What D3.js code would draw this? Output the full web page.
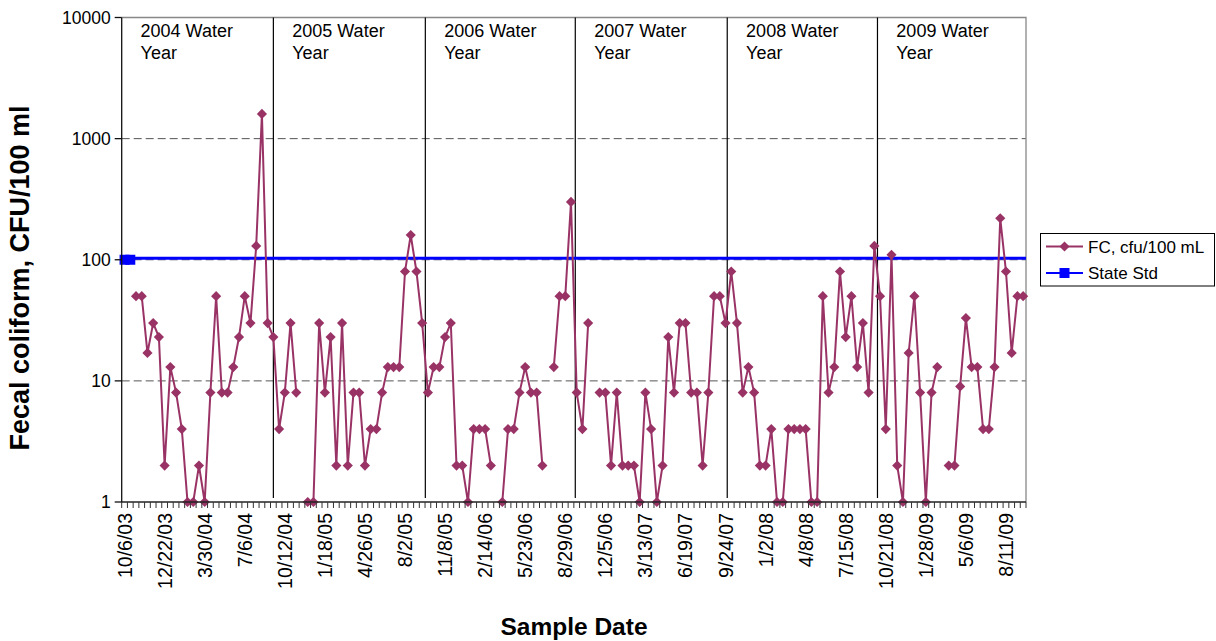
<!DOCTYPE html>
<html>
<head>
<meta charset="utf-8">
<script src="https://cdn.jsdelivr.net/npm/d3@7"></script>
<style>
  html, body { margin: 0; padding: 0; background: #fff; }
  svg { display: block; font-family: "Liberation Sans", Arial, sans-serif; }
</style>
</head>
<body>
<svg id="chart" width="1216" height="641"></svg>
<script>
// Fecal coliform results, one entry per sample slot (null = no sample)
const fcValues = [
  null, null, 50, 50, 17, 30, 23, 2, 13, 8, 4, 1, 1, 2, 1, 8, 50, 8, 8, 13, 23, 50, 30, 130, 1600, 30, 23,
  4, 8, 30, 8, null, 1, 1, 30, 8, 23, 2, 30, 2, 8, 8, 2, 4, 4, 8, 13, 13, 13, 80, 160, 80, 30,
  8, 13, 13, 23, 30, 2, 2, 1, 4, 4, 4, 2, null, 1, 4, 4, 8, 13, 8, 8, 2, null, 13, 50, 50, 300,
  8, 4, 30, null, 8, 8, 2, 8, 2, 2, 2, 1, 8, 4, 1, 2, 23, 8, 30, 30, 8, 8, 2, 8, 50, 50, 30,
  80, 30, 8, 13, 8, 2, 2, 4, 1, 1, 4, 4, 4, 4, 1, 1, 50, 8, 13, 80, 23, 50, 13, 30, 8, 130,
  50, 4, 110, 2, 1, 17, 50, 8, 1, 8, 13, null, 2, 2, 9, 33, 13, 13, 4, 4, 13, 220, 80, 17, 50, 50
];

// Sample-date labels, shown on every 7th slot
const tickLabels = [
  "10/6/03", "12/22/03", "3/30/04", "7/6/04", "10/12/04", "1/18/05", "4/26/05", "8/2/05",
  "11/8/05", "2/14/06", "5/23/06", "8/29/06", "12/5/06", "3/13/07", "6/19/07", "9/24/07",
  "1/2/08", "4/8/08", "7/15/08", "10/21/08", "1/28/09", "5/6/09", "8/11/09"
];
const labelEvery = 7;

// State standard (cfu/100 mL)
const stateStd = [100, 100];

// Water-year divisions, in sample-slot units
const waterYears = ["2004", "2005", "2006", "2007", "2008", "2009"];
const waterYearStarts = [0, 26.5, 53.05, 79.25, 105.8, 132.05];

const yTicks = [1, 10, 100, 1000, 10000];

const svg = d3.select("#chart");
const plot = { left: 121.7, right: 1026, top: 17.5, bottom: 502 };
const n = fcValues.length;

const x = d3.scaleLinear().domain([0, n]).range([plot.left, plot.right]);
const cx = i => x(i + 0.5);
const y = d3.scaleLog().domain([1, 10000]).range([plot.bottom, plot.top]);

const fcColor = "#993366";
const stdColor = "#0000ff";

// gridlines
svg.append("g").selectAll("line")
  .data(yTicks.filter(v => v > 1 && v < 10000))
  .join("line")
  .attr("x1", plot.left).attr("x2", plot.right)
  .attr("y1", d => y(d)).attr("y2", d => y(d))
  .attr("stroke", "#555").attr("stroke-width", 1)
  .attr("stroke-dasharray", "8,4");

// plot frame (top/right)
svg.append("path")
  .attr("d", `M${plot.left},${plot.top}H${plot.right}V${plot.bottom}`)
  .attr("fill", "none").attr("stroke", "#888").attr("stroke-width", 1.3);

// water-year dividers
svg.append("g").selectAll("line")
  .data(waterYearStarts.slice(1))
  .join("line")
  .attr("x1", d => x(d)).attr("x2", d => x(d))
  .attr("y1", plot.top).attr("y2", plot.bottom - 4)
  .attr("stroke", "#000").attr("stroke-width", 1.2);

// water-year captions
const wy = svg.append("g").attr("font-size", 18).attr("fill", "#000");
waterYears.forEach((yr, i) => {
  const t = wy.append("text")
    .attr("x", x(waterYearStarts[i] + 3.3))
    .attr("y", 37);
  t.append("tspan").attr("x", x(waterYearStarts[i] + 3.3)).text(yr + " Water");
  t.append("tspan").attr("x", x(waterYearStarts[i] + 3.3)).attr("dy", 21.7).text("Year");
});

// state standard line
svg.append("line")
  .attr("x1", plot.left).attr("x2", plot.right)
  .attr("y1", y(stateStd[0]) - 1.5).attr("y2", y(stateStd[0]) - 1.5)
  .attr("stroke", stdColor).attr("stroke-width", 3);
svg.append("g").selectAll("rect")
  .data(stateStd)
  .join("rect")
  .attr("x", (d, i) => cx(i) - 5).attr("y", d => y(d) - 5)
  .attr("width", 10).attr("height", 10)
  .attr("fill", stdColor);

// fecal coliform series
const line = d3.line()
  .defined(d => d != null)
  .x((d, i) => cx(i))
  .y(d => y(d));
svg.append("path")
  .datum(fcValues)
  .attr("d", line)
  .attr("fill", "none")
  .attr("stroke", fcColor)
  .attr("stroke-width", 2);

const diamond = d3.symbol().type(d3.symbolDiamond2).size(66);
svg.append("g").selectAll("path")
  .data(fcValues.map((v, i) => ({ v, i })).filter(d => d.v != null))
  .join("path")
  .attr("transform", d => `translate(${cx(d.i)},${y(d.v)})`)
  .attr("d", diamond)
  .attr("fill", fcColor);

// x axis
const xAxis = svg.append("g");
xAxis.append("line")
  .attr("x1", plot.left).attr("x2", plot.right)
  .attr("y1", plot.bottom).attr("y2", plot.bottom)
  .attr("stroke", "#222").attr("stroke-width", 1.3);
xAxis.append("g").selectAll("line")
  .data(d3.range(n + 1))
  .join("line")
  .attr("x1", d => x(d)).attr("x2", d => x(d))
  .attr("y1", plot.bottom).attr("y2", plot.bottom + 6)
  .attr("stroke", "#333").attr("stroke-width", 1);
xAxis.append("g").selectAll("text")
  .data(tickLabels)
  .join("text")
  .attr("transform", (d, i) => `translate(${cx(i * labelEvery) + 7},${plot.bottom + 11}) rotate(-90)`)
  .attr("text-anchor", "end")
  .attr("font-size", 19.5)
  .text(d => d);

// y axis
const yAxis = svg.append("g");
yAxis.append("line")
  .attr("x1", plot.left).attr("x2", plot.left)
  .attr("y1", plot.top).attr("y2", plot.bottom)
  .attr("stroke", "#111").attr("stroke-width", 1.3);
yAxis.selectAll("line.tick")
  .data(yTicks)
  .join("line")
  .attr("class", "tick")
  .attr("x1", plot.left - 7).attr("x2", plot.left)
  .attr("y1", d => y(d)).attr("y2", d => y(d))
  .attr("stroke", "#111").attr("stroke-width", 1.3);
yAxis.selectAll("text")
  .data(yTicks)
  .join("text")
  .attr("x", plot.left - 11)
  .attr("y", d => y(d) + 6)
  .attr("text-anchor", "end")
  .attr("font-size", 17.5)
  .text(d => d);

// axis titles
svg.append("text")
  .attr("transform", `translate(29,278) rotate(-90)`)
  .attr("text-anchor", "middle")
  .attr("font-size", 27).attr("font-weight", "bold")
  .text("Fecal coliform, CFU/100 ml");
svg.append("text")
  .attr("x", 574).attr("y", 635)
  .attr("text-anchor", "middle")
  .attr("font-size", 24.5).attr("font-weight", "bold")
  .text("Sample Date");

// legend
const lg = svg.append("g");
lg.append("rect")
  .attr("x", 1040.5).attr("y", 233.5).attr("width", 174).attr("height", 52.5)
  .attr("fill", "#fff").attr("stroke", "#000").attr("stroke-width", 1);
const legendItems = [
  { label: "FC, cfu/100 mL", color: fcColor, shape: "diamond", yy: 246.5 },
  { label: "State Std", color: stdColor, shape: "square", yy: 273 }
];
legendItems.forEach(it => {
  lg.append("line")
    .attr("x1", 1046).attr("x2", 1083)
    .attr("y1", it.yy).attr("y2", it.yy)
    .attr("stroke", it.color).attr("stroke-width", it.shape === "square" ? 1.8 : 2);
  if (it.shape === "diamond") {
    lg.append("path").attr("transform", `translate(1064.5,${it.yy})`)
      .attr("d", diamond).attr("fill", it.color);
  } else {
    lg.append("rect").attr("x", 1059.5).attr("y", it.yy - 5)
      .attr("width", 10).attr("height", 10).attr("fill", it.color);
  }
  lg.append("text")
    .attr("x", 1088).attr("y", it.yy + 6)
    .attr("font-size", 17)
    .text(it.label);
});
</script>
</body>
</html>
